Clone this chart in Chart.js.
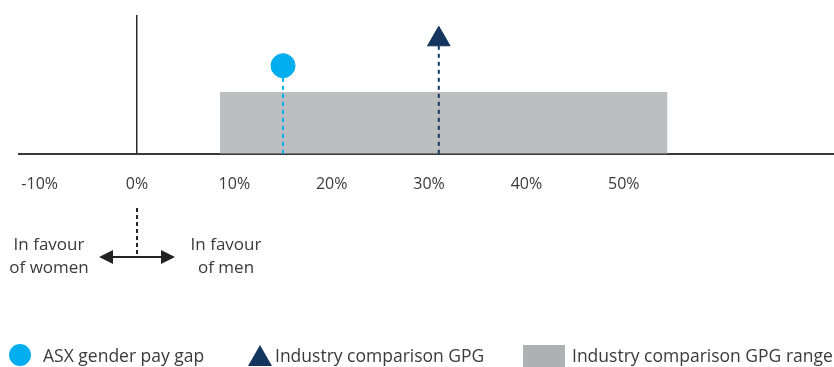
<!DOCTYPE html>
<html>
<head>
<meta charset="utf-8">
<script src="https://cdn.jsdelivr.net/npm/chart.js@4/dist/chart.umd.min.js"></script>
<style>
  html, body { margin: 0; padding: 0; background: #fff; }
  #wrap { position: relative; width: 834px; height: 367px; font-family: "Open Sans", sans-serif; color: #3a3a3a; }
  #wrap canvas { position: absolute; left: 0; top: 0; }
  .lg { position: absolute; font-size: 17.5px; line-height: 22px; top: 344px; white-space: nowrap; }
  .sw { position: absolute; }
</style>
</head>
<body>
<div id="wrap">
  <canvas id="gapChart" width="834" height="367"></canvas>
  <div class="sw" style="left:9px;top:344px;width:22px;height:22px;border-radius:50%;background:#00aeef"></div>
  <div class="lg" style="left:43px">ASX gender pay gap</div>
  <div class="sw" style="left:248px;top:345px;width:0;height:0;border-left:12px solid transparent;border-right:12px solid transparent;border-bottom:21px solid #14355e"></div>
  <div class="lg" style="left:275px">Industry comparison GPG</div>
  <div class="sw" style="left:523px;top:345px;width:42px;height:22px;background:#aeb0b3"></div>
  <div class="lg" style="left:572px">Industry comparison GPG range</div>
</div>
<script>
// values (percent)
const tickValues = [-10, 0, 10, 20, 30, 40, 50];
const asxGap = [15.0];
const industryGpg = [31.0];
const gpgRange = [8.5, 54.5];
// vertical levels on the hidden 0-100 axis
const levels = { asx: 63.5, industry: 82.5, range: 44.5 };

const textCol = '#3a3a3a';

// arrow + "in favour" captions under the zero line
const favourNote = {
  id: 'favourNote',
  afterDraw(chart) {
    const c = chart.ctx;
    const x0 = chart.scales.x.getPixelForValue(0);
    c.save();
    c.strokeStyle = '#222';
    c.fillStyle = '#222';
    c.lineWidth = 2;
    c.setLineDash([4, 3]);
    c.beginPath();
    c.moveTo(x0, 208);
    c.lineTo(x0, 256);
    c.stroke();
    c.setLineDash([]);
    c.beginPath();
    c.moveTo(x0 - 30, 257);
    c.lineTo(x0 + 30, 257);
    c.stroke();
    // heads
    c.beginPath();
    c.moveTo(x0 - 38, 257); c.lineTo(x0 - 24, 250); c.lineTo(x0 - 24, 264); c.closePath();
    c.moveTo(x0 + 38, 257); c.lineTo(x0 + 24, 250); c.lineTo(x0 + 24, 264); c.closePath();
    c.fill();
    c.fillStyle = textCol;
    c.font = '17px "Open Sans"';
    c.textAlign = 'center';
    c.textBaseline = 'middle';
    c.fillText('In favour', x0 - 88, 245);
    c.fillText('of women', x0 - 88, 268);
    c.fillText('In favour', x0 + 89, 245);
    c.fillText('of men', x0 + 89, 268);
    c.restore();
  }
};

new Chart(document.getElementById('gapChart'), {
  type: 'scatter',
  data: {
    datasets: [{
      type: 'scatter',
      label: 'ASX gender pay gap',
      data: asxGap.map(v => ({ x: v, y: levels.asx })),
      pointStyle: 'circle',
      pointRadius: 12,
      backgroundColor: '#00aeef',
      borderColor: '#00aeef',
      order: 0
    }, {
      type: 'scatter',
      label: 'Industry comparison GPG',
      data: industryGpg.map(v => ({ x: v, y: levels.industry })),
      pointStyle: 'triangle',
      pointRadius: 13,
      backgroundColor: '#14355e',
      borderColor: '#14355e',
      order: 0
    }, {
      type: 'line',
      data: [{ x: asxGap[0], y: 0 }, { x: asxGap[0], y: levels.asx }],
      borderColor: '#00aeef',
      borderWidth: 2,
      borderDash: [4, 4],
      pointRadius: 0,
      order: 1
    }, {
      type: 'line',
      data: [{ x: industryGpg[0], y: 0 }, { x: industryGpg[0], y: levels.industry }],
      borderColor: '#14355e',
      borderWidth: 2,
      borderDash: [4, 4],
      pointRadius: 0,
      order: 1
    }, {
      type: 'line',
      label: 'Industry comparison GPG range',
      data: gpgRange.map(v => ({ x: v, y: levels.range })),
      fill: 'origin',
      backgroundColor: '#bcbec0',
      borderWidth: 0,
      pointRadius: 0,
      order: 2
    }]
  },
  options: {
    responsive: false,
    animation: false,
    events: [],
    layout: { autoPadding: false, padding: { left: 14, right: 0, top: 15, bottom: 152 } },
    plugins: { legend: { display: false }, tooltip: { enabled: false } },
    scales: {
      x: {
        type: 'linear',
        min: -12.1,
        max: 71.6,
        afterBuildTicks: axis => { axis.ticks = tickValues.map(v => ({ value: v })); },
        grid: {
          drawTicks: false,
          lineWidth: 1.5,
          color: ctx => (ctx.tick && ctx.tick.value === 0 ? '#2a2a2a' : 'rgba(0,0,0,0)')
        },
        border: { color: '#3a3a3a', width: 2 },
        ticks: {
          padding: 21,
          color: textCol,
          font: { family: '"Open Sans"', size: 16 },
          callback: v => v + '%'
        }
      },
      y: { display: false, min: 0, max: 100 }
    }
  },
  plugins: [favourNote]
});
</script>
</body>
</html>
